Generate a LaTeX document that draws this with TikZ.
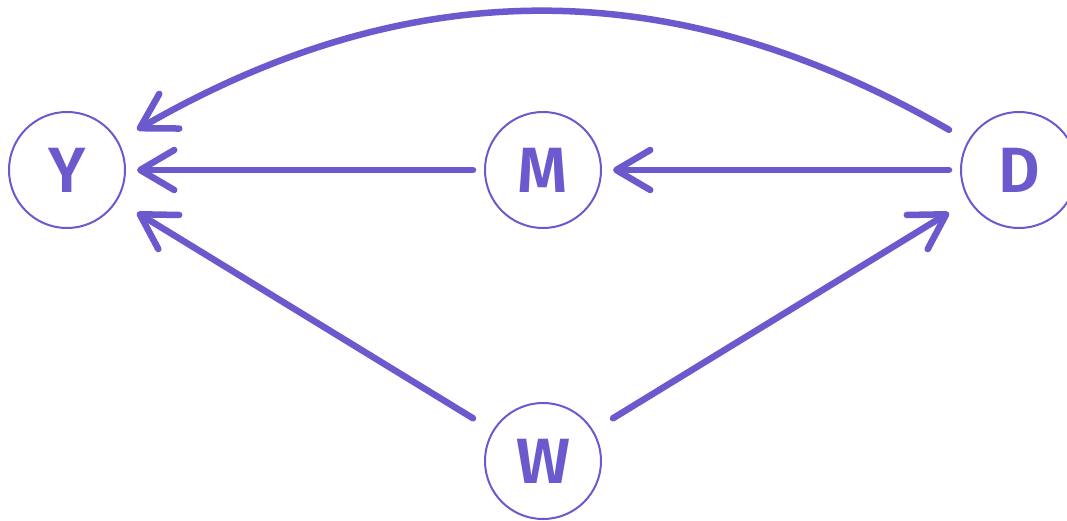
\documentclass[tikz,border=0pt]{standalone}
\usepackage{fontspec}
\setsansfont[BoldFont={Fira Sans SemiBold}]{Fira Sans}
\usetikzlibrary{positioning,arrows.meta}
\definecolor{dagpurple}{RGB}{106,90,205}
\tikzset{
  var/.style={rectangle, minimum size=116pt, inner sep=0pt, outer sep=12pt, text=dagpurple, font=\sffamily\bfseries\fontsize{64pt}{64pt}\selectfont},
  ring/.style={draw=dagpurple, line width=2pt},
  arrow/.style={-{Straight Barb[length=34pt,width=40pt,round]}, line width=6.5pt, line cap=round, dagpurple}
}

\begin{document}
\begin{tikzpicture}[x=1pt,y=1pt]
        \useasboundingbox (0,0) rectangle (1067,520);
        \node[var] (Y) at (67,350) {Y};
        \node[var, right=336pt of Y] (M) {M};
        \node[var, right=336pt of M] (D) {D};
        \node[var, below=151pt of M] (W) {W};
        \foreach \v in {Y,M,D,W}
          \draw[ring] (\v.center) circle[radius=58pt];
        \draw[arrow] (M) -- (Y);
        \draw[arrow] (D) -- (M);
        \draw[arrow] (W) -- (Y);
        \draw[arrow] (W) -- (D);
        \draw[arrow] (D) to[bend right=30] (Y);
      \end{tikzpicture}
\end{document}
